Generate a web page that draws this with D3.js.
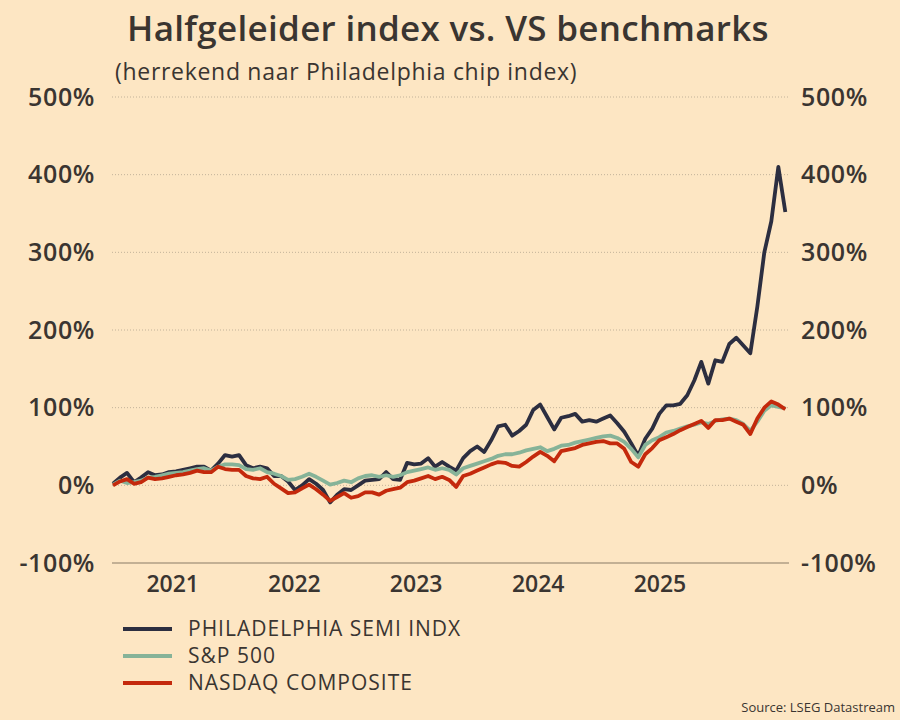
<!DOCTYPE html>
<html>
<head>
<meta charset="utf-8">
<script src="https://cdn.jsdelivr.net/npm/d3@7"></script>
<style>
  body { margin: 0; background: #fde6c3; }
  svg { display: block; }
  text { font-family: "Open Sans", sans-serif; fill: #3a3531; }
</style>
</head>
<body>
<svg id="chart" width="900" height="720"></svg>
<script>
const semis = [
  2, 10, 16, 4, 10, 17, 13, 14, 17, 18,
  20, 22, 24, 24, 19, 28, 39, 37, 39, 26,
  22, 24, 22, 12, 12, 5, -6, 0, 8, 2,
  -6, -22, -12, -5, -6, 0, 6, 7, 8, 17,
  8, 7, 29, 27, 28, 35, 24, 30, 24, 19,
  35, 44, 50, 43, 58, 76, 78, 64, 70, 78,
  97, 104, 88, 72, 87, 89, 92, 82, 84, 82,
  86, 90, 80, 69, 54, 38, 60, 73, 92, 103,
  103, 105, 116, 135, 159, 131, 161, 159, 182, 190,
  180, 170, 230, 300, 340, 410, 352
];
const sp500 = [
  1, 6, 3, 4, 6, 10, 11, 13, 15, 16,
  17, 19, 21, 22, 19, 24, 27, 27, 26, 21,
  20, 22, 17, 15, 12, 7, 8, 11, 15, 11,
  6, 1, 3, 6, 4, 9, 12, 13, 11, 13,
  11, 13, 17, 19, 21, 23, 20, 22, 20, 14,
  22, 25, 28, 31, 34, 38, 40, 40, 42, 45,
  47, 49, 44, 47, 51, 52, 55, 57, 59, 61,
  63, 64, 61, 56, 47, 36, 52, 58, 62, 68,
  70, 73, 76, 78, 81, 79, 83, 85, 86, 84,
  79, 70, 82, 96, 103, 101, 99
];
const nasdaq = [
  0, 5, 8, 2, 4, 10, 8, 9, 11, 13,
  14, 16, 19, 17, 17, 24, 21, 20, 20, 12,
  9, 8, 11, 2, -4, -10, -9, -4, 1, -5,
  -12, -20, -15, -10, -16, -14, -9, -9, -12, -7,
  -5, -3, 4, 6, 9, 12, 8, 11, 7, -2,
  12, 15, 19, 23, 27, 30, 29, 25, 24, 30,
  37, 43, 38, 31, 44, 46, 48, 52, 54, 56,
  57, 54, 54, 47, 30, 24, 40, 48, 58, 62,
  66, 71, 75, 79, 83, 74, 84, 84, 86, 82,
  78, 66, 86, 100, 108, 104, 98
];

// one reading every three weeks, from 4 Jan 2021
const dates = semis.map((d, i) => d3.timeDay.offset(new Date(2021, 0, 4), 21 * i));

const seriesNames = ["PHILADELPHIA SEMI INDX", "S&P 500", "NASDAQ COMPOSITE"];
const seriesColors = ["#2c2e40", "#86b398", "#c4290c"];
const yTicks = [-100, 0, 100, 200, 300, 400, 500];
const yearLabels = [2021, 2022, 2023, 2024, 2025];

const svg = d3.select("#chart");
const plotLeft = 112, plotRight = 789, plotTop = 97, plotBottom = 563;

const x = d3.scaleTime()
    .domain([new Date(2021, 0, 1), new Date(2026, 6, 24)])
    .range([plotLeft, plotRight]);
const y = d3.scaleLinear()
    .domain([-100, 500])
    .range([plotBottom, plotTop]);

// title
svg.append("text")
    .attr("x", 448).attr("y", 41)
    .attr("text-anchor", "middle")
    .style("font-size", "35px").style("font-weight", 600)
    .style("letter-spacing", "0.3px")
    .text("Halfgeleider index vs. VS benchmarks");
svg.append("text")
    .attr("x", 115).attr("y", 80)
    .style("font-size", "23px")
    .style("letter-spacing", "0.7px")
    .text("(herrekend naar Philadelphia chip index)");

// grid
svg.append("g")
  .selectAll("line")
  .data(yTicks.filter(d => d > -100))
  .join("line")
    .attr("x1", plotLeft).attr("x2", plotRight)
    .attr("y1", d => y(d)).attr("y2", d => y(d))
    .attr("stroke", "#c2b299")
    .attr("stroke-width", 1)
    .attr("stroke-dasharray", "1,2");

svg.append("line")
    .attr("x1", plotLeft).attr("x2", plotRight)
    .attr("y1", y(-100)).attr("y2", y(-100))
    .attr("stroke", "#8a7a66").attr("stroke-width", 1.2);

// y labels both sides
const yFmt = d => d + "%";
svg.append("g")
  .selectAll("text")
  .data(yTicks)
  .join("text")
    .attr("x", 95).attr("y", d => y(d))
    .attr("dy", "0.35em")
    .attr("text-anchor", "end")
    .style("font-size", "25px").style("font-weight", 600)
    .style("letter-spacing", "0.6px")
    .text(yFmt);
svg.append("g")
  .selectAll("text")
  .data(yTicks)
  .join("text")
    .attr("x", 801).attr("y", d => y(d))
    .attr("dy", "0.35em")
    .style("font-size", "25px").style("font-weight", 600)
    .style("letter-spacing", "0.6px")
    .text(yFmt);

// year labels sit in the middle of each year
svg.append("g")
  .selectAll("text")
  .data(yearLabels)
  .join("text")
    .attr("x", d => x(new Date(d, 6, 2)))
    .attr("y", 592)
    .attr("text-anchor", "middle")
    .style("font-size", "23px").style("font-weight", 600)
    .text(d => d);

// lines
const line = d3.line()
    .x((d, i) => x(dates[i]))
    .y(d => y(d));

[semis, sp500, nasdaq].forEach((s, k) => {
  svg.append("path")
      .datum(s)
      .attr("fill", "none")
      .attr("stroke", seriesColors[k])
      .attr("stroke-width", 3.8)
      .attr("stroke-linejoin", "round")
      .attr("d", line);
});

// legend
const legend = svg.append("g")
  .selectAll("g")
  .data(seriesNames)
  .join("g")
    .attr("transform", (d, i) => `translate(123,${629 + i * 27})`);
legend.append("line")
    .attr("x1", 0).attr("x2", 49)
    .attr("stroke", (d, i) => seriesColors[i])
    .attr("stroke-width", 4);
legend.append("text")
    .attr("x", 65).attr("dy", "0.35em")
    .style("font-size", "21px")
    .style("letter-spacing", "1px")
    .text(d => d);

svg.append("text")
    .attr("x", 895).attr("y", 712)
    .attr("text-anchor", "end")
    .style("font-size", "13px")
    .text("Source: LSEG Datastream");
</script>
</body>
</html>
